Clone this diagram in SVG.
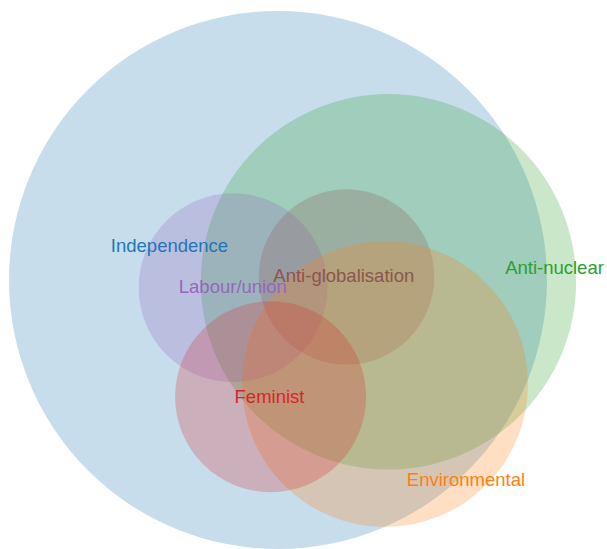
<svg xmlns="http://www.w3.org/2000/svg" width="607" height="549" viewBox="0 0 607 549">
<style>
.c{fill-opacity:0.25;stroke:none}
.t{font-family:"Liberation Sans",Arial,sans-serif;font-size:18.5px;text-anchor:middle}
</style>
<rect width="607" height="549" fill="#ffffff"/>
<g id="independence"><circle class="c" cx="278" cy="280" r="269" fill="#1f77b4"/></g>
<g id="anti-nuclear"><circle class="c" cx="388.4" cy="281.8" r="187.7" fill="#2ca02c"/></g>
<g id="labour-union"><circle class="c" cx="233" cy="287.7" r="94.4" fill="#9467bd"/></g>
<g id="anti-globalisation"><circle class="c" cx="346.5" cy="276.9" r="87.7" fill="#8c564b"/></g>
<g id="environmental"><circle class="c" cx="385" cy="384" r="143" fill="#ff7f0e"/></g>
<g id="feminist"><circle class="c" cx="270.6" cy="396.7" r="95.5" fill="#d62728"/></g>
<g id="labels">
<text class="t" x="169.5" y="251.5" fill="#1f77b4">Independence</text>
<text class="t" x="554.5" y="274.3" fill="#2ca02c">Anti-nuclear</text>
<text class="t" x="232.8" y="293.3" fill="#9467bd">Labour/union</text>
<text class="t" x="343.8" y="281.5" fill="#8c564b">Anti-globalisation</text>
<text class="t" x="466" y="485.7" fill="#ff7f0e">Environmental</text>
<text class="t" x="269.5" y="402.7" fill="#d62728">Feminist</text>
</g>
<g id="connectors"></g>
</svg>
